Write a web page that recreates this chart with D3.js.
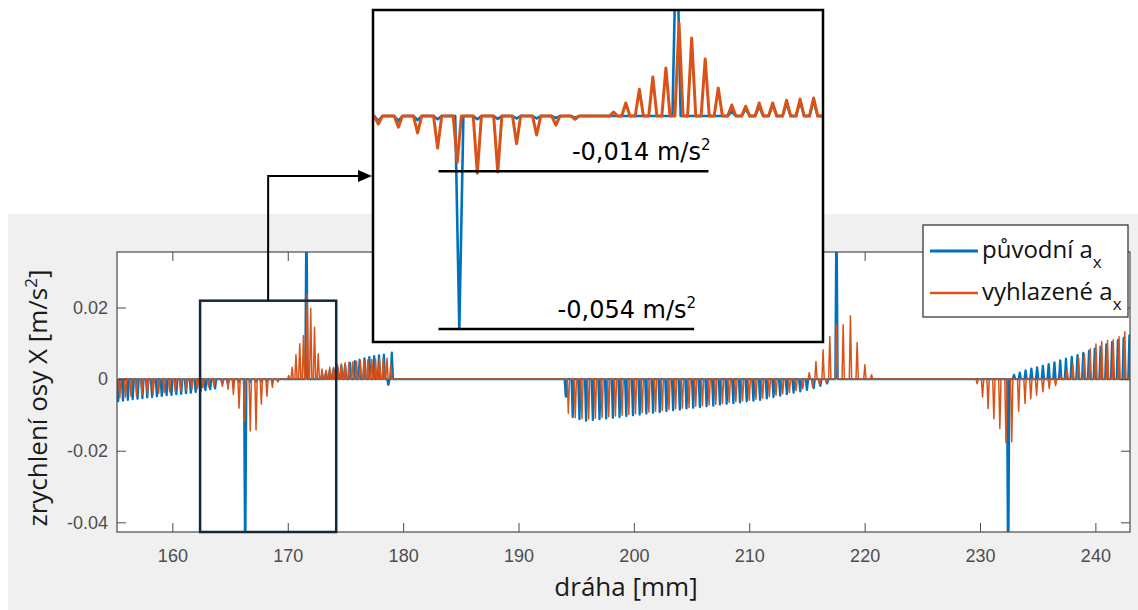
<!DOCTYPE html>
<html><head><meta charset="utf-8">
<script src="https://cdn.jsdelivr.net/npm/d3@7"></script>
<style>body{margin:0;background:#fff}svg{display:block}</style>
</head><body>
<svg id="c" width="1138" height="610"></svg>
<script>
// ---------- data ----------
const xTicks = [160, 170, 180, 190, 200, 210, 220, 230, 240];
const xTickLabels = ["160", "170", "180", "190", "200", "210", "220", "230", "240"];
const yTicks = [-0.04, -0.02, 0, 0.02];
const yTickLabels = ["-0.04", "-0.02", "0", "0.02"];
const seriesNames = ["původní a", "vyhlazené a"];
const xLabel = "dráha [mm]";
const yLabel = "zrychlení osy X [m/s";

// original signal (původní a_x): spike positions [mm] and peak values [m/s^2]
const blueX = [
  155.3, 155.72, 156.14, 156.56, 156.98, 157.4, 157.82, 158.24, 158.66, 159.08, 159.5, 159.92, 160.34, 160.76, 161.18, 161.6, 162.02, 162.44, 162.86,
  163.28, 163.7, 164.33, 164.82, 165.29, 165.78, 166.31, 166.75, 167.25, 167.71, 168.2, 168.67, 169.14,
  171.62,
  172.97, 173.31, 173.64, 173.97, 174.31, 174.64, 174.97, 175.39, 175.81, 176.23, 176.65, 177.07, 177.49, 177.91, 178.33, 178.72, 179.02,
  194.1, 194.7, 195.28, 195.86, 196.44, 197.02, 197.6, 198.18, 198.76, 199.34, 199.92, 200.5, 201.08, 201.66, 202.24, 202.82, 203.4, 203.98, 204.56, 205.14,
  205.72, 206.3, 206.88, 207.46, 208.04, 208.62, 209.2, 209.78, 210.36, 210.94, 211.52, 212.1, 212.68, 213.26, 213.84, 214.42, 215.0, 215.58, 216.16, 216.74,
  217.56,
  232.44,
  232.95, 233.45, 233.95, 234.45, 234.95, 235.45, 235.95, 236.45, 236.95, 237.45, 237.95, 238.45, 238.95, 239.45, 239.95, 240.45, 240.95, 241.45, 241.95, 242.45, 242.95
];
const blueY = [
  -0.0062, -0.006, -0.0058, -0.0056, -0.0055, -0.0053, -0.0051, -0.005, -0.0048, -0.0047, -0.0045, -0.0044, -0.0042, -0.0041, -0.0039, -0.0038, -0.0036, -0.0034, -0.0031,
  -0.0028, -0.0026, -0.0012, -0.0012, -0.001, -0.0008, -0.054, -0.0008, -0.0007, -0.0006, -0.0006, -0.0005, -0.0004,
  0.05,
  0.0012, 0.0018, 0.0024, 0.0028, 0.0033, 0.0037, 0.004, 0.0045, 0.005, 0.0054, 0.0058, 0.0061, 0.0064, 0.0066, 0.0068, -0.0016, 0.0074,
  -0.0049, -0.0106, -0.0112, -0.0116, -0.0114, -0.0112, -0.011, -0.0108, -0.0106, -0.0103, -0.0101, -0.0099, -0.0096, -0.0094, -0.0092, -0.0089, -0.0087, -0.0085, -0.0082, -0.008,
  -0.0078, -0.0076, -0.0074, -0.0071, -0.0069, -0.0067, -0.0065, -0.0062, -0.006, -0.0058, -0.0054, -0.005, -0.0046, -0.0042, -0.0038, -0.0034, -0.003, -0.0025, -0.0019, -0.0012,
  0.05,
  -0.06,
  0.0012, 0.0018, 0.0024, 0.0029, 0.0033, 0.0037, 0.0042, 0.0047, 0.0052, 0.0057, 0.0062, 0.0067, 0.0073, 0.0079, 0.0085, 0.0091, 0.0097, 0.0103, 0.0109, 0.0115, 0.0122
];

// smoothed signal (vyhlazené a_x)
const orangeX = [
  155.45, 155.93, 156.41, 156.89, 157.37, 157.85, 158.33, 158.81, 159.29, 159.77, 160.25, 160.73, 161.21, 161.69, 162.17, 162.65, 163.13, 163.61,
  164.33, 164.82, 165.29, 165.78, 166.26, 166.75, 167.25, 167.71, 168.2, 168.67, 169.14,
  170.08, 170.38, 170.71, 171.04, 171.36, 171.68, 171.99, 172.32, 172.64, 172.97, 173.31, 173.64, 173.97, 174.31, 174.64, 174.97,
  175.3, 175.63, 175.96, 176.29, 176.62, 176.95, 177.28, 177.61, 177.94, 178.27, 178.6, 178.93,
  194.32, 194.92, 195.5, 196.08, 196.66, 197.24, 197.82, 198.4, 198.98, 199.56, 200.14, 200.72, 201.3, 201.88, 202.46, 203.04, 203.62, 204.2,
  204.78, 205.36, 205.94, 206.52, 207.1, 207.68, 208.26, 208.84, 209.42, 210.0, 210.58, 211.16, 211.74, 212.32, 212.9, 213.48, 214.06, 214.64,
  215.2, 215.49, 215.78, 216.09, 216.4, 216.69, 216.98, 217.56, 218.14, 218.77, 219.35, 220.02, 220.6,
  229.75, 230.22, 230.7, 231.2, 231.72, 232.25, 232.75, 233.35, 233.9, 234.4, 234.9, 235.45, 236.0, 236.55,
  237.05, 237.55, 238.05, 238.55, 239.05, 239.55, 240.05, 240.55, 241.05, 241.55, 242.05, 242.55, 243.05
];
const orangeY = [
  -0.0052, -0.005, -0.0048, -0.0047, -0.0045, -0.0043, -0.0042, -0.004, -0.0038, -0.0036, -0.0034, -0.0032, -0.003, -0.0028, -0.0026, -0.0024, -0.0022, -0.002,
  -0.002, -0.0028, -0.0043, -0.0081, -0.0117, -0.0145, -0.0142, -0.007, -0.0048, -0.0023, -0.0008,
  0.001, 0.0033, 0.0068, 0.0099, 0.0122, 0.0236, 0.0198, 0.0145, 0.0071, 0.0028, 0.0025, 0.0033, 0.0033, 0.004, 0.0043, 0.0046,
  0.0047, 0.0048, 0.005, 0.0051, 0.0052, 0.0054, 0.0055, 0.0056, 0.0057, 0.0058, 0.0058, 0.004,
  -0.0095, -0.0108, -0.011, -0.0111, -0.0109, -0.0107, -0.0105, -0.0103, -0.0101, -0.0099, -0.0097, -0.0094, -0.0092, -0.009, -0.0088, -0.0085, -0.0083, -0.0081,
  -0.0079, -0.0076, -0.0074, -0.0072, -0.007, -0.0068, -0.0065, -0.0063, -0.0061, -0.0059, -0.0056, -0.0053, -0.0049, -0.0045, -0.0041, -0.0037, -0.0032, -0.0027,
  0.0018, -0.0022, 0.0049, -0.0015, 0.0082, -0.0008, 0.0119, 0.0152, 0.0152, 0.0177, 0.0102, 0.004, 0.0012,
  -0.0013, -0.005, -0.0082, -0.0111, -0.0138, -0.0178, -0.0175, -0.009, -0.0068, -0.0055, -0.0045, -0.0035, -0.0026, -0.0018,
  0.0008, 0.0025, 0.004, 0.0058, 0.007, 0.0085, 0.0098, 0.0105, 0.0108, 0.011, 0.0118, 0.0132, 0.0128
];

// zoom window & inset
const zoomBoxX = [162.4, 174.2];
const zoomBoxTop = 0.0219;
const insetXDomain = [164.2, 175.2];
const insetYDomain = [-0.0573, 0.0269];
const noteValues = [-0.014, -0.054];
const noteLabels = ["-0,014 m/s", "-0,054 m/s"];
const noteXStart = [165.8, 165.8];
const noteXEnd = [172.4, 172.05];

// ---------- drawing ----------
const svg = d3.select("#c");
const W = 1138, H = 610;
const colBlue = "#0072BD", colOrange = "#D95319";
const tickFont = "'Liberation Sans', Arial, sans-serif";
const labFont = "'Open Sans', sans-serif";

// figure gray background
svg.append("rect").attr("x", 8).attr("y", 214).attr("width", W - 8).attr("height", H - 214).attr("fill", "#f0f0f0");

const x = d3.scaleLinear().domain([155.2, 243]).range([117, 1130]);
const y = d3.scaleLinear().domain([-0.0427, 0.0355]).range([532, 252]);

svg.append("rect").attr("x", x.range()[0]).attr("y", y.range()[1])
  .attr("width", x.range()[1] - x.range()[0]).attr("height", y.range()[0] - y.range()[1]).attr("fill", "#fff");

const defs = svg.append("defs");
defs.append("clipPath").attr("id", "clipMain").append("rect")
  .attr("x", x.range()[0]).attr("y", y.range()[1])
  .attr("width", x.range()[1] - x.range()[0]).attr("height", y.range()[0] - y.range()[1]);

const HW = 0.1; // spike half-width in mm (shape)
function spikePoints(xs, ys) {
  const arr = xs.map((v, i) => [v, ys[i]]).sort((a, b) => a[0] - b[0]);
  const out = [];
  arr.forEach(([sx, sy]) => { out.push([sx - HW, 0], [sx, sy], [sx + HW, 0]); });
  return out;
}
const bluePts = spikePoints(blueX, blueY);
const orangePts = spikePoints(orangeX, orangeY);

const gPlot = svg.append("g").attr("clip-path", "url(#clipMain)");
const lineMain = d3.line().x(d => x(d[0])).y(d => y(d[1]));
gPlot.append("path").attr("d", lineMain(bluePts)).attr("fill", "none").attr("stroke", colBlue)
  .attr("stroke-width", 2.3).attr("stroke-linejoin", "round");
gPlot.append("path").attr("d", lineMain(orangePts)).attr("fill", "none").attr("stroke", colOrange)
  .attr("stroke-width", 1.5).attr("stroke-linejoin", "round");

// axes
const axisCol = "#4a4a4a";
function styleAxis(g) {
  g.select(".domain").remove();
  g.selectAll(".tick line").attr("stroke", axisCol).attr("stroke-width", 1);
  g.selectAll(".tick text").attr("fill", "#4d4d4d").attr("font-family", tickFont).attr("font-size", 18);
}
svg.append("g").attr("transform", `translate(0,${y.range()[0]})`)
  .call(d3.axisBottom(x).tickValues(xTicks).tickSize(-9).tickPadding(17).tickFormat((d, i) => xTickLabels[i]))
  .call(styleAxis);
svg.append("g").attr("transform", `translate(0,${y.range()[1]})`)
  .call(d3.axisTop(x).tickValues(xTicks).tickSize(-9).tickFormat(""))
  .call(styleAxis);
svg.append("g").attr("transform", `translate(${x.range()[0]},0)`)
  .call(d3.axisLeft(y).tickValues(yTicks).tickSize(-9).tickPadding(9).tickFormat((d, i) => yTickLabels[i]))
  .call(styleAxis);
svg.append("g").attr("transform", `translate(${x.range()[1]},0)`)
  .call(d3.axisRight(y).tickValues(yTicks).tickSize(-9).tickFormat(""))
  .call(styleAxis);
svg.append("rect").attr("x", x.range()[0]).attr("y", y.range()[1])
  .attr("width", x.range()[1] - x.range()[0]).attr("height", y.range()[0] - y.range()[1])
  .attr("fill", "none").attr("stroke", axisCol).attr("stroke-width", 1.2);

// axis labels
svg.append("text").attr("x", 626).attr("y", 596).attr("text-anchor", "middle")
  .attr("font-family", labFont).attr("font-size", 26).attr("fill", "#1a1a1a").text(xLabel);
const yl = svg.append("text").attr("transform", "translate(47,398) rotate(-90)").attr("text-anchor", "middle")
  .attr("font-family", labFont).attr("font-size", 26).attr("fill", "#1a1a1a");
yl.append("tspan").text(yLabel);
yl.append("tspan").attr("dy", -10).attr("font-size", 17).text("2");
yl.append("tspan").attr("dy", 10).text("]");

// zoom window rectangle
const zb = { x0: x(zoomBoxX[0]), x1: x(zoomBoxX[1]), y0: y(zoomBoxTop), y1: y.range()[0] };
svg.append("rect").attr("x", zb.x0).attr("y", zb.y0).attr("width", zb.x1 - zb.x0).attr("height", zb.y1 - zb.y0)
  .attr("fill", "none").attr("stroke", "#17283a").attr("stroke-width", 2.5);

// inset
const xi = d3.scaleLinear().domain(insetXDomain).range([373, 823]);
const yi = d3.scaleLinear().domain(insetYDomain).range([342, 10]);
defs.append("clipPath").attr("id", "clipInset").append("rect")
  .attr("x", xi.range()[0]).attr("y", yi.range()[1]).attr("width", xi.range()[1] - xi.range()[0]).attr("height", yi.range()[0] - yi.range()[1]);

// connector with arrow (from zoom box to inset)
const cx = (zb.x0 + zb.x1) / 2;
const cy = yi(-0.0152);
svg.append("path").attr("d", `M${cx},${zb.y0}V${cy}H${xi.range()[0] - 12}`)
  .attr("fill", "none").attr("stroke", "#000").attr("stroke-width", 2);
svg.append("path").attr("d", `M${xi.range()[0] - 1},${cy}L${xi.range()[0] - 15},${cy - 6}L${xi.range()[0] - 15},${cy + 6}Z`).attr("fill", "#000");

svg.append("rect").attr("x", xi.range()[0]).attr("y", yi.range()[1])
  .attr("width", xi.range()[1] - xi.range()[0]).attr("height", yi.range()[0] - yi.range()[1]).attr("fill", "#fff");
const gIn = svg.append("g").attr("clip-path", "url(#clipInset)");
const lineIn = d3.line().x(d => xi(d[0])).y(d => yi(d[1]));
gIn.append("path").attr("d", lineIn(bluePts)).attr("fill", "none").attr("stroke", colBlue)
  .attr("stroke-width", 2.6).attr("stroke-linejoin", "round");
gIn.append("path").attr("d", lineIn(orangePts)).attr("fill", "none").attr("stroke", colOrange)
  .attr("stroke-width", 3).attr("stroke-linejoin", "round");

noteValues.forEach((v, i) => {
  const yy = yi(v);
  svg.append("line").attr("x1", xi(noteXStart[i])).attr("x2", xi(noteXEnd[i])).attr("y1", yy).attr("y2", yy)
    .attr("stroke", "#000").attr("stroke-width", 2.5);
  const t = svg.append("text").attr("x", xi(noteXEnd[i]) + 2).attr("y", yy - 11).attr("text-anchor", "end")
    .attr("font-family", "'DejaVu Sans', sans-serif").attr("font-size", 24).attr("fill", "#000");
  t.append("tspan").text(noteLabels[i]);
  t.append("tspan").attr("dy", -10).attr("font-size", 15).text("2");
});
svg.append("rect").attr("x", xi.range()[0]).attr("y", yi.range()[1])
  .attr("width", xi.range()[1] - xi.range()[0]).attr("height", yi.range()[0] - yi.range()[1])
  .attr("fill", "none").attr("stroke", "#000").attr("stroke-width", 2.5);

// legend
const lg = svg.append("g");
lg.append("rect").attr("x", 923).attr("y", 225).attr("width", 205).attr("height", 92)
  .attr("fill", "#fff").attr("stroke", "#3a3a3a").attr("stroke-width", 1.3);
[colBlue, colOrange].forEach((c, i) => {
  const ly = 251 + i * 42;
  lg.append("line").attr("x1", 930).attr("x2", 978).attr("y1", ly).attr("y2", ly)
    .attr("stroke", c).attr("stroke-width", i === 0 ? 3 : 2.5);
  const t = lg.append("text").attr("x", 982).attr("y", ly + 7).attr("font-family", labFont)
    .attr("font-size", 24).attr("fill", "#111");
  t.append("tspan").text(seriesNames[i]);
  t.append("tspan").attr("dy", 10).attr("font-size", 17).text("x");
});
</script>
</body></html>
